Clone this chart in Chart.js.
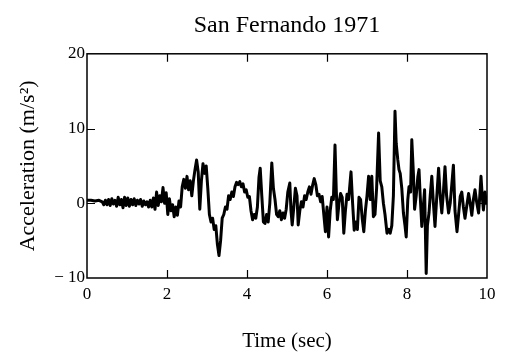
<!DOCTYPE html>
<html>
<head>
<meta charset="utf-8">
<script src="https://cdn.jsdelivr.net/npm/chart.js@4/dist/chart.umd.min.js"></script>
<style>
html,body{margin:0;padding:0;background:#fff;}
#wrap{width:506px;height:354px;}
</style>
</head>
<body>
<div id="wrap"><canvas id="c" width="506" height="354"></canvas></div>
<script>
const chartTitle = 'San Fernando 1971';
const xTitle = 'Time (sec)';
const yTitle = 'Acceleration (m/s\u00B2)';

const times = [
0.00,0.10,0.20,0.30,0.38,0.42,0.46,0.50,0.54,0.58,0.62,0.66,0.70,0.74,0.78,0.82,0.86,0.90,0.94,0.98,
1.02,1.06,1.10,1.14,1.18,1.22,1.26,1.30,1.34,1.38,1.42,1.46,1.50,1.54,1.58,1.62,1.66,1.70,1.74,1.78,
1.82,1.86,1.90,1.94,1.98,2.02,2.06,2.10,2.14,2.18,2.22,2.26,2.30,2.34,2.38,2.42,2.46,2.50,2.54,2.58,
2.62,2.66,2.70,2.74,2.78,2.82,2.86,2.90,2.94,2.98,3.02,3.06,3.10,3.14,3.18,3.22,3.26,3.30,3.34,3.38,
3.42,3.46,3.50,3.54,3.58,3.62,3.66,3.70,3.74,3.78,3.82,3.86,3.90,3.94,3.98,4.02,4.06,4.10,4.14,4.18,
4.22,4.26,4.30,4.33,4.37,4.41,4.45,4.49,4.53,4.57,4.62,4.66,4.70,4.74,4.78,4.82,4.86,4.90,4.94,4.98,
5.02,5.07,5.10,5.13,5.17,5.21,5.25,5.28,5.32,5.36,5.40,5.44,5.48,5.52,5.56,5.60,5.64,5.68,5.72,5.76,
5.80,5.84,5.88,5.92,5.96,6.00,6.04,6.08,6.12,6.16,6.20,6.23,6.26,6.30,6.34,6.38,6.42,6.46,6.50,6.54,
6.60,6.64,6.68,6.72,6.76,6.80,6.84,6.88,6.92,6.96,7.00,7.04,7.08,7.12,7.16,7.20,7.24,7.29,7.33,7.37,
7.41,7.45,7.50,7.54,7.58,7.62,7.66,7.70,7.73,7.77,7.80,7.83,7.87,7.91,7.95,7.98,8.02,8.05,8.09,8.12,
8.16,8.19,8.23,8.27,8.30,8.33,8.37,8.40,8.44,8.48,8.51,8.55,8.58,8.62,8.66,8.70,8.74,8.79,8.83,8.87,
8.91,8.95,8.99,9.04,9.08,9.12,9.16,9.20,9.25,9.29,9.33,9.37,9.41,9.45,9.49,9.54,9.58,9.62,9.66,9.70,
9.74,9.79,9.82,9.85,9.88,9.91,9.95,9.98,10.00
];
const accel = [
0.4,0.4,0.3,0.4,0.2,-0.2,0.4,-0.2,0.5,-0.3,0.6,-0.1,0.4,-0.4,0.8,-0.2,0.5,-0.6,0.8,-0.3,
0.7,-0.4,0.5,-0.2,0.6,-0.3,0.4,-0.1,0.5,-0.4,0.3,-0.2,0.2,-0.5,0.4,-0.5,0.7,-0.8,1.5,-0.3,
1.0,0.2,2.1,0.0,1.4,-1.5,0.6,-1.0,-0.2,-1.8,-0.5,-1.6,0.3,-0.5,2.2,3.2,2.0,3.6,1.8,3.0,
1.0,3.0,4.5,5.8,4.2,-0.8,3.0,5.3,4.0,5.0,2.0,-1.5,-2.5,-2.0,-3.5,-3.0,-5.5,-7.0,-5.0,-2.0,
-1.5,-0.5,-0.8,1.0,0.5,1.5,0.9,2.2,2.8,2.5,2.9,2.2,2.6,1.5,1.8,0.8,0.9,-1.0,-2.2,-1.5,
-2.0,-0.5,3.5,4.7,1.0,-2.5,-2.7,-1.5,-2.5,0.0,5.4,2.0,0.5,-1.5,-1.8,-1.0,-2.2,-1.3,-2.0,-0.8,
1.5,2.7,-1.0,-2.9,-0.5,2.0,1.0,-2.9,-1.0,0.2,-0.5,1.0,0.5,1.5,2.2,1.2,2.4,3.3,2.5,1.0,
1.2,0.2,0.9,-1.5,-3.8,-0.5,-4.5,-1.0,0.8,0.5,7.8,2.0,-2.2,0.0,1.3,0.8,-4.0,-1.0,1.2,0.5,
4.2,0.0,-3.6,-2.5,-3.5,0.8,0.5,-2.0,-3.8,-1.0,1.0,3.6,0.5,3.6,-1.8,-1.5,2.0,9.4,3.0,2.2,
0.0,-1.5,-4.0,-3.5,-4.0,-3.0,1.0,12.3,8.0,5.8,4.5,4.0,2.0,-1.3,-3.0,-4.5,0.5,2.2,1.5,8.5,
4.0,-0.8,1.0,3.5,4.5,1.0,-3.1,-1.0,1.8,-9.4,-3.0,-1.3,1.0,3.6,0.0,-3.1,0.5,4.7,1.0,-1.3,
1.5,4.9,1.0,-1.3,0.0,2.5,5.1,-1.0,-3.8,-1.5,0.9,1.5,-0.5,-2.0,-0.5,1.3,0.0,-1.6,0.5,1.8,
0.2,-1.3,1.0,3.6,1.0,-0.9,1.5,0.0,0.2
];
const xTickValues = [0,2,4,6,8,10];
const yTickValues = [-10,0,10,20];

const serif = "'Liberation Serif','Times New Roman',serif";

const frameTicks = {
  id: 'frameTicks',
  afterDatasetsDraw(chart) {
    const ctx = chart.ctx;
    const a = chart.chartArea;
    const xs = chart.scales.x, ys = chart.scales.y;
    const L = 8;
    ctx.save();
    ctx.strokeStyle = '#000';
    ctx.lineWidth = 1.5;
    ctx.strokeRect(a.left, a.top, a.right - a.left, a.bottom - a.top);
    ctx.lineWidth = 1.2;
    ctx.beginPath();
    xTickValues.slice(1, -1).forEach(v => {
      const px = Math.round(xs.getPixelForValue(v)) + 0.5;
      ctx.moveTo(px, a.bottom); ctx.lineTo(px, a.bottom - L);
      ctx.moveTo(px, a.top); ctx.lineTo(px, a.top + L);
    });
    yTickValues.slice(1, -1).forEach(v => {
      const py = Math.round(ys.getPixelForValue(v)) + 0.5;
      ctx.moveTo(a.left, py); ctx.lineTo(a.left + L, py);
      ctx.moveTo(a.right, py); ctx.lineTo(a.right - L, py);
    });
    ctx.stroke();
    ctx.restore();
  }
};

new Chart(document.getElementById('c'), {
  type: 'line',
  data: {
    datasets: [{
      data: times.map((t, i) => ({x: t, y: accel[i]})),
      borderColor: '#000',
      borderWidth: 3,
      borderJoinStyle: 'round',
      pointRadius: 0,
      tension: 0,
      fill: false
    }]
  },
  plugins: [frameTicks],
  options: {
    responsive: false,
    animation: false,
    layout: { padding: { left: 0, right: 19, top: 0, bottom: 0 } },
    plugins: {
      legend: { display: false },
      tooltip: { enabled: false },
      title: {
        display: true,
        text: chartTitle,
        fullSize: false,
        color: '#000',
        font: { family: serif, size: 24, weight: 'normal' },
        padding: { top: 11, bottom: 14 }
      }
    },
    scales: {
      x: {
        type: 'linear',
        min: 0, max: 10,
        afterBuildTicks: s => { s.ticks = xTickValues.map(v => ({value: v})); },
        afterFit: s => { s.height = 76; },
        grid: { display: false, drawTicks: false },
        border: { display: false },
        ticks: { color: '#000', padding: 6, maxRotation: 0, font: { family: serif, size: 17 } },
        title: { display: true, text: xTitle, color: '#000', padding: { top: 0, bottom: 0 }, font: { family: serif, size: 21 } }
      },
      y: {
        type: 'linear',
        min: -10, max: 20,
        afterBuildTicks: s => { s.ticks = yTickValues.map(v => ({value: v})); },
        afterFit: s => { s.width = 87; },
        grid: { display: false, drawTicks: false },
        border: { display: false },
        ticks: {
          color: '#000', padding: 2,
          font: { family: serif, size: 17 },
          callback: v => v < 0 ? '\u2212 ' + Math.abs(v) : String(v)
        },
        title: { display: true, text: yTitle, color: '#000', padding: { top: 15, bottom: 0 }, font: { family: serif, size: 22 } }
      }
    }
  }
});
</script>
</body>
</html>
